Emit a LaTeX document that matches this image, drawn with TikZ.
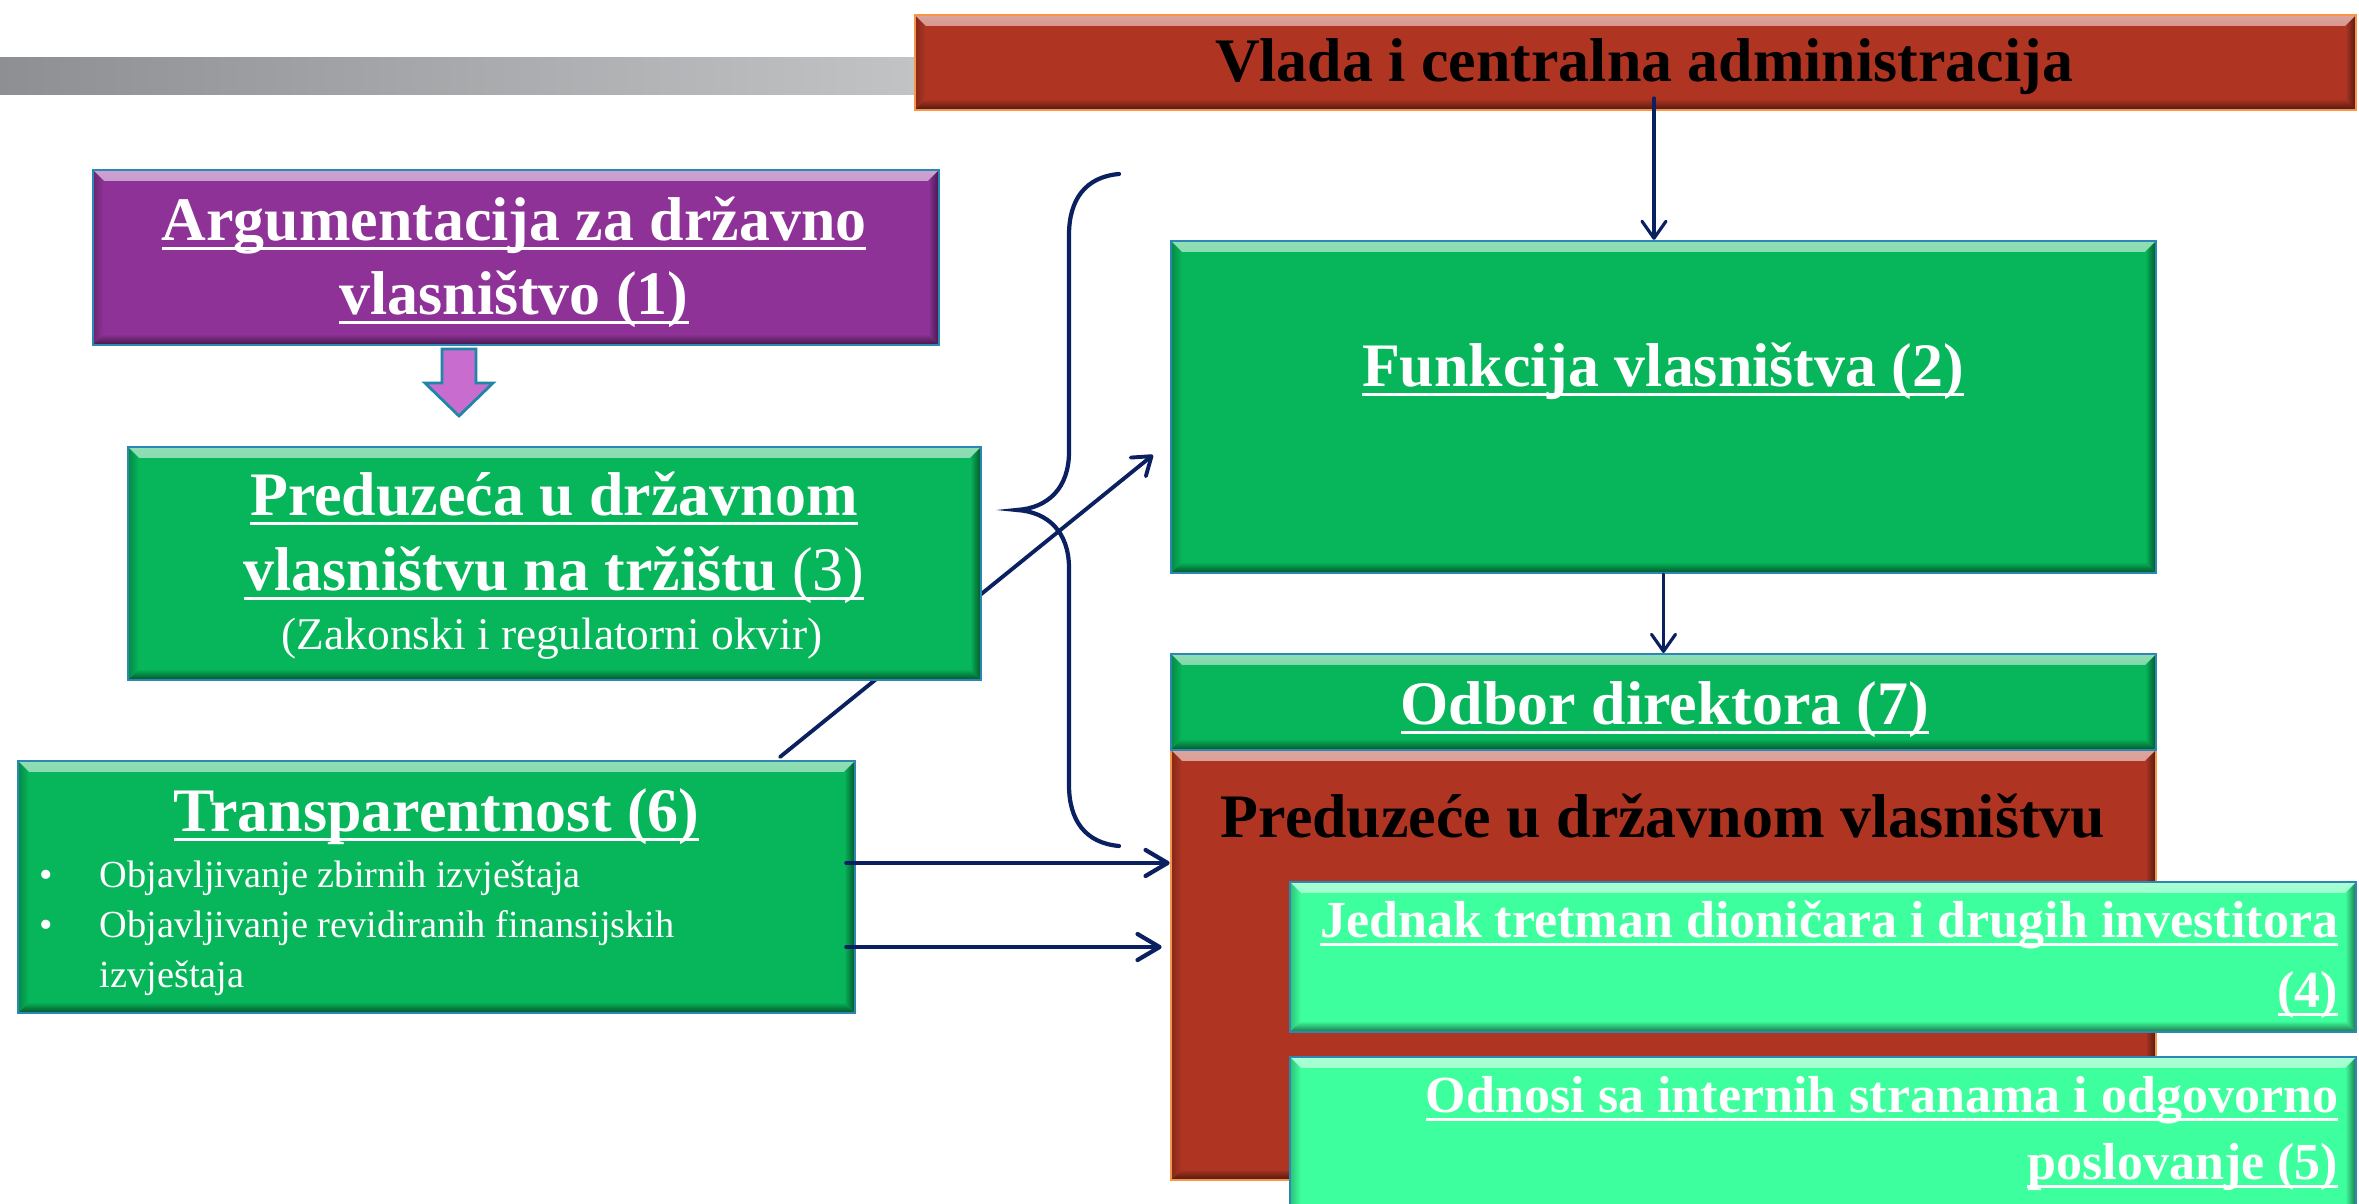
\documentclass[tikz,border=0pt]{standalone}
\usepackage{fontspec}
\setmainfont{Liberation Serif}
\usetikzlibrary{arrows.meta}
\definecolor{boxgreen}{RGB}{7,181,90}
\definecolor{lightgreen}{RGB}{61,255,157}
\definecolor{boxred}{RGB}{175,53,34}
\definecolor{boxpurple}{RGB}{142,50,152}
\definecolor{navy}{RGB}{10,32,96}
\definecolor{edgeblue}{RGB}{45,135,180}
\definecolor{edgeorange}{RGB}{247,150,70}
\definecolor{arrowfill}{RGB}{200,108,208}
\definecolor{arrowedge}{RGB}{30,135,168}
\definecolor{barL}{RGB}{142,143,146}
\definecolor{barR}{RGB}{194,195,197}
\newsavebox\ulbox
\newcommand\ulx[1]{\sbox\ulbox{#1}\rlap{\rule[-0.15em]{\wd\ulbox}{0.05em}}\usebox\ulbox}
\newcommand\titlefont{\fontsize{17.6pt}{21pt}\selectfont\bfseries}
\newcommand\midfont{\fontsize{14.8pt}{18pt}\selectfont\bfseries}
\newcommand\subfont{\fontsize{12.9pt}{15pt}\selectfont}
\newcommand\smallfont{\fontsize{10.9pt}{13pt}\selectfont}
\def\bv{0.11cm}
\tikzset{
  bevel/.style={fill=#1, path picture={
    \shade[top color=#1!45!white, bottom color=#1]
      (path picture bounding box.north west) -- (path picture bounding box.north east)
      -- ([shift={(-\bv,-\bv)}]path picture bounding box.north east)
      -- ([shift={(\bv,-\bv)}]path picture bounding box.north west) -- cycle;
    \shade[top color=#1, bottom color=#1!45!black]
      ([shift={(\bv,\bv)}]path picture bounding box.south west)
      -- ([shift={(-\bv,\bv)}]path picture bounding box.south east)
      -- (path picture bounding box.south east) -- (path picture bounding box.south west) -- cycle;
    \shade[left color=#1, right color=#1!45!black]
      ([shift={(-\bv,-\bv)}]path picture bounding box.north east)
      -- (path picture bounding box.north east) -- (path picture bounding box.south east)
      -- ([shift={(-\bv,\bv)}]path picture bounding box.south east) -- cycle;
    \shade[left color=#1!75!black, right color=#1]
      (path picture bounding box.north west) -- ([shift={(\bv,-\bv)}]path picture bounding box.north west)
      -- ([shift={(\bv,\bv)}]path picture bounding box.south west)
      -- (path picture bounding box.south west) -- cycle;
  }},
  box/.style={draw=edgeblue, line width=0.6pt, inner sep=0pt, bevel=#1},
  txt/.style={anchor=base, inner sep=0pt, text=white},
  arr/.style={draw=navy, line width=0.9pt, line cap=round,
    -{Straight Barb[length=1.7mm, width=2.4mm, line cap=round, line join=round]}},
  arrthick/.style={draw=navy, line width=1.2pt, line cap=round,
    -{Straight Barb[length=2.2mm, width=2.6mm, line cap=round, line join=round]}},
  bracestyle/.style={draw=navy, line width=1.2pt, line cap=round},
}
\begin{document}
\begin{tikzpicture}[x=0.01cm, y=-0.01cm]
\useasboundingbox (0,0) rectangle (2359,1204);
\clip (0,0) rectangle (2359,1204);
\fill[white] (0,0) rectangle (2359,1204);

% gray bar
\shade[left color=barL, right color=barR] (0,58) rectangle (916,95);

% top red box
\node[box=boxred, draw=edgeorange, minimum width=14.41cm, minimum height=0.95cm] (vlada) at (1635.5,62.5) {};
\node[anchor=base, inner sep=0pt, text=black] (vlada-t) at (1644,82) {\titlefont Vlada i centralna administracija};

% diagonal arrow (behind boxes)
\coordinate (dstart) at (780,757);
\coordinate (dend) at (1153,455);
\draw[arr, line width=1.1pt] (dstart) -- (dend);

% brace
\draw[bracestyle] (1119,174) .. controls (1085,177) and (1069,200) .. (1069,235)
  -- (1069,452) .. controls (1069,488) and (1048,508) .. (1017,510)
  .. controls (1048,512) and (1069,532) .. (1069,568)
  -- (1069,785) .. controls (1069,820) and (1085,843) .. (1119,846);

% purple box
\node[box=boxpurple, minimum width=8.46cm, minimum height=1.75cm] (arg) at (516,257.5) {};
\node[txt] (arg-1) at (514,241) {\titlefont\ulx{Argumentacija za državno}};
\node[txt] (arg-2) at (514,315) {\titlefont\ulx{vlasništvo (1)}};

% block arrow
\draw[fill=arrowfill, draw=arrowedge, line width=0.8pt, line join=miter]
  (442,349) -- (476,349) -- (476,383) -- (493,383) -- (459,416) -- (425,383) -- (442,383) -- cycle;

% box 3
\node[box=boxgreen, minimum width=8.53cm, minimum height=2.33cm] (pred) at (554.5,563.5) {};
\node[txt] (pred-1) at (554,516) {\titlefont\ulx{Preduzeća u državnom}};
\node[txt] (pred-2) at (554,591) {\titlefont\ulx{vlasništvu na tržištu \mdseries(3)}};
\node[txt] (pred-3) at (552,650) {\subfont(Zakonski i regulatorni okvir)};

% transparentnost
\node[box=boxgreen, minimum width=8.37cm, minimum height=2.52cm] (transp) at (436.5,887) {};
\node[txt] (transp-t) at (436.5,832) {\titlefont\ulx{Transparentnost (6)}};
\node[txt] (bul1) at (46,888) {\smallfont\textbullet};
\node[txt] (bul2) at (46,938) {\smallfont\textbullet};
\node[txt, anchor=base west] (transp-1) at (99,888) {\smallfont Objavljivanje zbirnih izvještaja};
\node[txt, anchor=base west] (transp-2) at (99,938) {\smallfont Objavljivanje revidiranih finansijskih};
\node[txt, anchor=base west] (transp-3) at (99,988) {\smallfont izvještaja};

% funkcija
\node[box=boxgreen, minimum width=9.85cm, minimum height=3.32cm] (funk) at (1663.5,407) {};
\node[txt] (funk-t) at (1663,387) {\titlefont\ulx{Funkcija vlasništva (2)}};

% red SOE box
\node[box=boxred, draw=edgeorange, minimum width=9.85cm, minimum height=4.30cm] (soe) at (1663.5,965) {};
\node[anchor=base, inner sep=0pt, text=black] (soe-t) at (1663,838) {\titlefont Preduzeće u državnom vlasništvu};

% odbor
\node[box=boxgreen, minimum width=9.85cm, minimum height=0.96cm] (odbor) at (1663.5,702) {};
\node[txt] (odbor-t) at (1665,725) {\titlefont\ulx{Odbor direktora (7)}};

% jednak / odnosi
\node[box=lightgreen, minimum width=10.66cm, minimum height=1.50cm] (jed) at (1823,957) {};
\node[txt, anchor=base east] (jed-1) at (2339,938) {\midfont\ulx{Jednak tretman dioničara i drugih investitora}};
\node[txt, anchor=base east] (jed-2) at (2339,1008) {\midfont\ulx{(4)}};
\node[box=lightgreen, minimum width=10.66cm, minimum height=1.58cm] (odn) at (1823,1136) {};
\node[txt, anchor=base east] (odn-1) at (2339,1113) {\midfont\ulx{Odnosi sa internih stranama i odgovorno}};
\node[txt, anchor=base east] (odn-2) at (2339,1180) {\midfont\ulx{poslovanje (5)}};

% arrows
\coordinate (vs) at (1654,98);
\draw[arr] (vs) -- (vs |- funk.north);
\draw[arr] (funk.south) -- (odbor.north);
\draw[arrthick] ([shift={(-0.1cm,0.24cm)}]transp.east) coordinate (h1) -- (h1 -| soe.west);
\draw[arrthick] ([shift={(-0.1cm,-0.6cm)}]transp.east) coordinate (h2) -- ([xshift=-0.08cm]h2 -| soe.west);
\end{tikzpicture}
\end{document}
